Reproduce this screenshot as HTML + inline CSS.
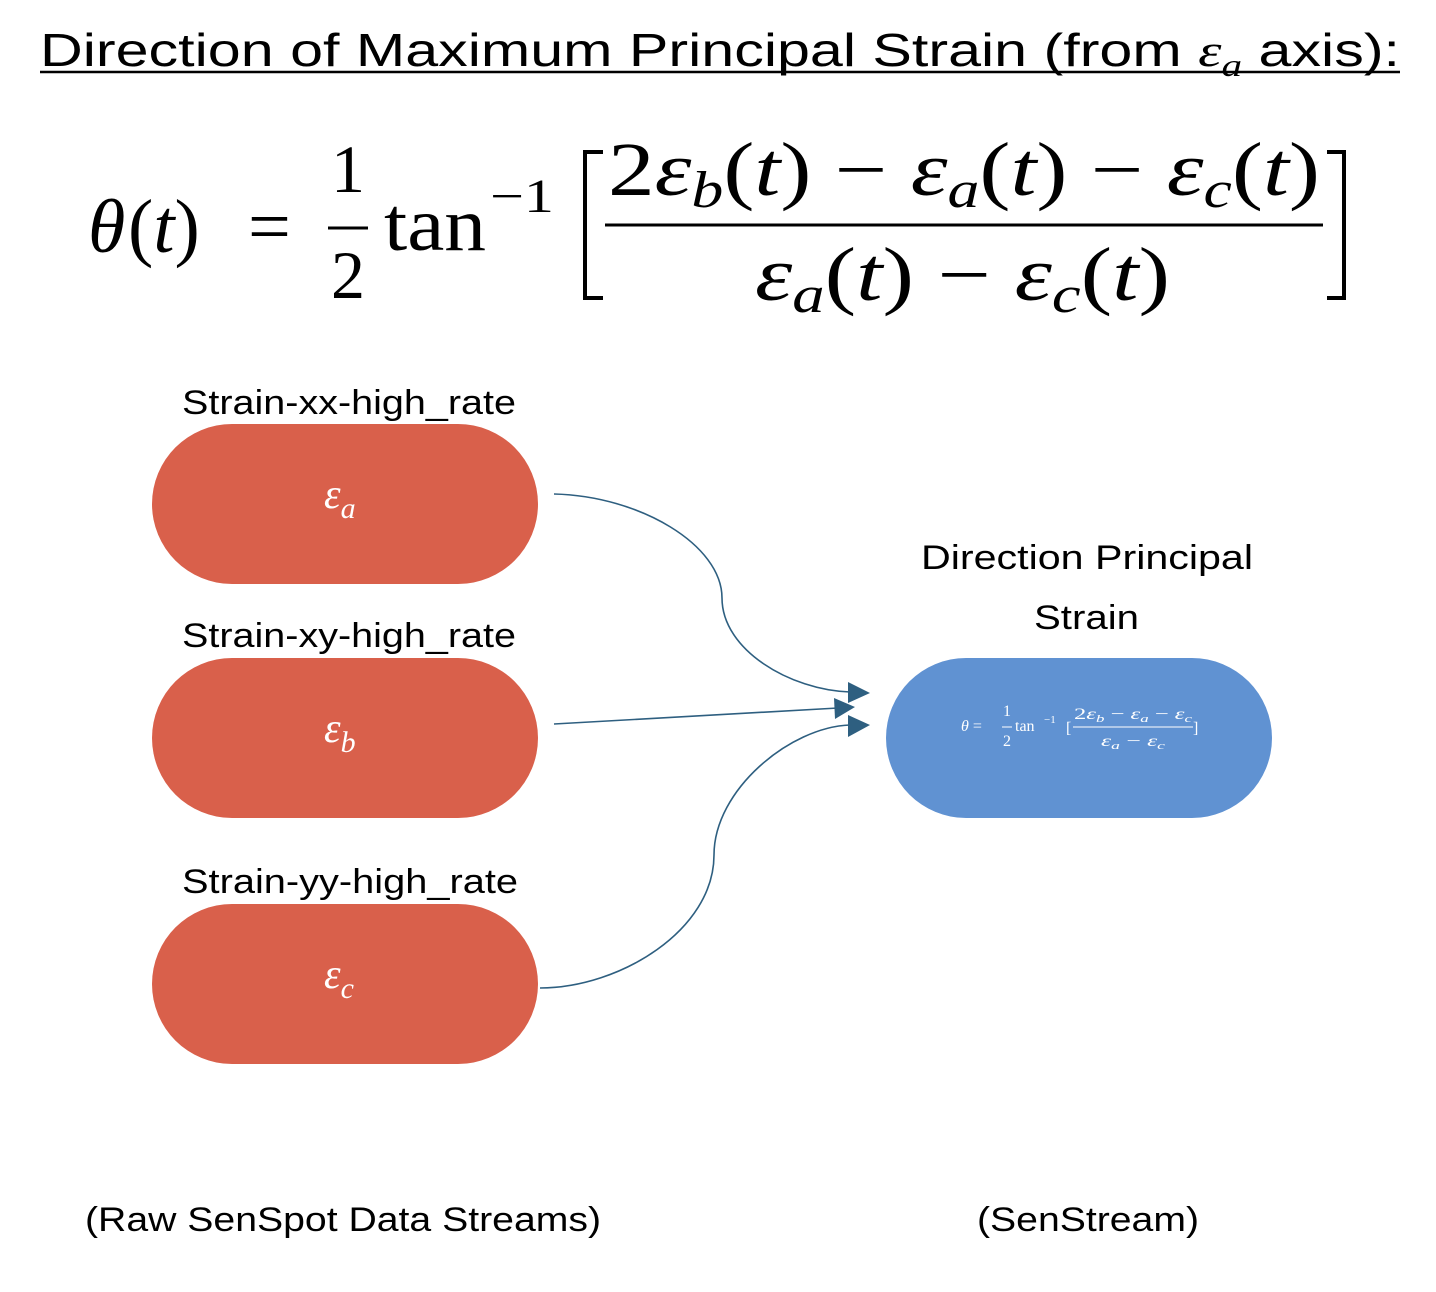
<!DOCTYPE html>
<html><head><meta charset="utf-8"><style>
html,body{margin:0;padding:0;background:#fff}
svg{display:block}
.s{font-family:"Liberation Sans",sans-serif}
.m{font-family:"Liberation Serif",serif}
</style></head><body>
<svg width="1436" height="1292" viewBox="0 0 1436 1292" xmlns="http://www.w3.org/2000/svg">
<text x="720" y="66" class="s" font-size="46" text-anchor="middle" textLength="1360" lengthAdjust="spacingAndGlyphs">Direction of Maximum Principal Strain (from <tspan class="m" font-style="italic">ε</tspan><tspan class="m" font-style="italic" font-size="32" dy="10">a</tspan><tspan dy="-10"> axis):</tspan></text>
<line x1="40" y1="72" x2="1400" y2="72" stroke="#000" stroke-width="2.5"/>

<g class="m" font-size="76" fill="#000">
<text x="88" y="252" font-style="italic">θ</text><text x="128" y="252">(<tspan font-style="italic">t</tspan>)</text>
<text x="248" y="252">=</text>
<text x="348" y="192" text-anchor="middle" font-size="68">1</text>
<line x1="328" y1="228" x2="368" y2="228" stroke="#000" stroke-width="3"/>
<text x="348" y="298" text-anchor="middle" font-size="68">2</text>
<text x="384" y="250" textLength="102" lengthAdjust="spacingAndGlyphs">tan</text><text x="490" y="212" font-size="48" textLength="64" lengthAdjust="spacingAndGlyphs">−1</text>
<text x="608" y="195" textLength="712" lengthAdjust="spacingAndGlyphs">2<tspan font-style="italic">ε</tspan><tspan font-style="italic" font-size="52" dy="12">b</tspan><tspan dy="-12">(<tspan font-style="italic">t</tspan>) − <tspan font-style="italic">ε</tspan></tspan><tspan font-style="italic" font-size="52" dy="12">a</tspan><tspan dy="-12">(<tspan font-style="italic">t</tspan>) − <tspan font-style="italic">ε</tspan></tspan><tspan font-style="italic" font-size="52" dy="12">c</tspan><tspan dy="-12">(<tspan font-style="italic">t</tspan>)</tspan></text>
<line x1="605" y1="225" x2="1323" y2="225" stroke="#000" stroke-width="3"/>
<text x="755" y="300" textLength="415" lengthAdjust="spacingAndGlyphs"><tspan font-style="italic">ε</tspan><tspan font-style="italic" font-size="52" dy="12">a</tspan><tspan dy="-12">(<tspan font-style="italic">t</tspan>) − <tspan font-style="italic">ε</tspan></tspan><tspan font-style="italic" font-size="52" dy="12">c</tspan><tspan dy="-12">(<tspan font-style="italic">t</tspan>)</tspan></text>
</g>
<path d="M603,152 L585,152 L585,298 L603,298" fill="none" stroke="#000" stroke-width="4"/>
<path d="M1327,152 L1344,152 L1344,298 L1327,298" fill="none" stroke="#000" stroke-width="4"/>

<g class="s" font-size="34" fill="#000">
<text x="182" y="414" textLength="334" lengthAdjust="spacingAndGlyphs">Strain-xx-high_rate</text>
<text x="182" y="647" textLength="334" lengthAdjust="spacingAndGlyphs">Strain-xy-high_rate</text>
<text x="182" y="893" textLength="336" lengthAdjust="spacingAndGlyphs">Strain-yy-high_rate</text>
<text x="921" y="569" textLength="332" lengthAdjust="spacingAndGlyphs">Direction Principal</text>
<text x="1034" y="629" textLength="105" lengthAdjust="spacingAndGlyphs">Strain</text>
<text x="85" y="1231" textLength="516" lengthAdjust="spacingAndGlyphs">(Raw SenSpot Data Streams)</text>
<text x="977" y="1231" textLength="222" lengthAdjust="spacingAndGlyphs">(SenStream)</text>
</g>

<rect x="152" y="424" width="386" height="160" rx="80" fill="#D9604B"/>
<rect x="152" y="658" width="386" height="160" rx="80" fill="#D9604B"/>
<rect x="152" y="904" width="386" height="160" rx="80" fill="#D9604B"/>
<rect x="886" y="658" width="386" height="160" rx="80" fill="#6092D2"/>

<g class="m" font-style="italic" fill="#fff" font-size="42">
<text x="324" y="508">ε<tspan font-size="30" dy="10">a</tspan></text>
<text x="324" y="742">ε<tspan font-size="30" dy="10">b</tspan></text>
<text x="324" y="988">ε<tspan font-size="30" dy="10">c</tspan></text>
</g>
<g class="m" fill="#fff" font-size="16">
<text x="961" y="731"><tspan font-style="italic">θ</tspan> =</text>
<text x="1007" y="716" text-anchor="middle">1</text>
<line x1="1002" y1="727" x2="1012" y2="727" stroke="#fff" stroke-width="1"/>
<text x="1007" y="746" text-anchor="middle">2</text>
<text x="1015" y="731">tan</text><text x="1044" y="723" font-size="11">−1</text><text x="1066" y="733">[</text>
<text x="1074" y="719" textLength="118" lengthAdjust="spacingAndGlyphs">2<tspan font-style="italic">ε</tspan><tspan font-style="italic" font-size="11" dy="3">b</tspan><tspan dy="-3"> − </tspan><tspan font-style="italic">ε</tspan><tspan font-style="italic" font-size="11" dy="3">a</tspan><tspan dy="-3"> − </tspan><tspan font-style="italic">ε</tspan><tspan font-style="italic" font-size="11" dy="3">c</tspan></text>
<line x1="1073" y1="727" x2="1193" y2="727" stroke="#fff" stroke-width="1"/>
<text x="1101" y="746" textLength="64" lengthAdjust="spacingAndGlyphs"><tspan font-style="italic">ε</tspan><tspan font-style="italic" font-size="11" dy="3">a</tspan><tspan dy="-3"> − </tspan><tspan font-style="italic">ε</tspan><tspan font-style="italic" font-size="11" dy="3">c</tspan></text>
<text x="1193" y="733">]</text>
</g>

<g fill="none" stroke="#2E5F80" stroke-width="1.6">
<path d="M554,494 C640,496 722,545 722,598 C722,650 790,690 850,692"/>
<path d="M554,724 L838,708"/>
<path d="M540,988 C620,988 714,930 714,855 C714,790 790,727 850,725"/>
</g>
<g fill="#2E5F80">
<polygon points="848,682 870,693 848,703"/>
<polygon points="834,698 855,707 835,719"/>
<polygon points="848,715 870,725 848,737"/>
</g>
</svg>
</body></html>
